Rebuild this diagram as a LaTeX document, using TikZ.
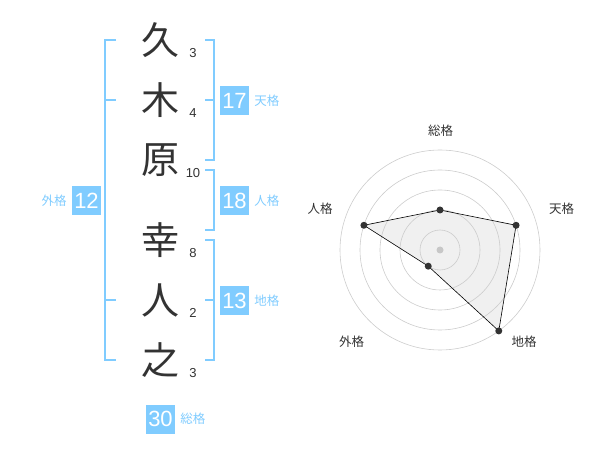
\documentclass[tikz,border=0pt]{standalone}
\usepackage{fontspec}
\setmainfont{Liberation Sans}
\newfontfamily\jp{Noto Sans CJK JP}
\usetikzlibrary{positioning}
\definecolor{kakublue}{RGB}{128,204,255}
\definecolor{kanjigray}{RGB}{51,51,51}

\begin{document}
\begin{tikzpicture}[x=1pt,y=-1pt,
  kanji/.style={font=\jp\fontsize{38}{38}\selectfont, text=kanjigray, inner sep=0pt},
  strokes/.style={font=\fontsize{13}{13}\selectfont, text=kanjigray, inner sep=0pt},
  kakubox/.style={fill=kakublue, text=white, minimum size=29pt, inner sep=0pt, font=\fontsize{22}{22}\selectfont},
  kakuname/.style={text=kakublue, font=\jp\fontsize{12.5}{12.5}\selectfont, inner sep=0pt},
  bracket/.style={draw=kakublue, line width=2pt},
  ring/.style={draw=black!20, line width=0.6pt},
  dot/.style={circle, inner sep=0pt, minimum size=7pt},
  radarname/.style={font=\jp\fontsize{12.5}{12.5}\selectfont, text=kanjigray, inner sep=0pt}
]
\useasboundingbox (0,0) rectangle (600,470);

% name characters with their stroke counts
\foreach \c/\n/\y [count=\i] in {久/3/40,木/4/100,原/10/160,幸/8/240,人/2/300,之/3/360} {
  \node[kanji] (k\i) at (160,\y) {\c};
  \node[strokes] (n\i) at (193,\y+13) {\n};
}

% brackets
\draw[bracket] (116,40) -- (105,40) -- (105,360) -- (116,360);
\draw[bracket] (105,100) -- (116,100);
\draw[bracket] (105,300) -- (116,300);
\draw[bracket] (205,40) -- (214,40) -- (214,160) -- (205,160);
\draw[bracket] (205,100) -- (214,100);
\draw[bracket] (205,170) -- (214,170) -- (214,230) -- (205,230);
\draw[bracket] (205,240) -- (214,240) -- (214,360) -- (205,360);
\draw[bracket] (205,300) -- (214,300);

% scores
\node[kakubox] (ten) at (234.5,100.5) {17};
\node[kakuname, right=5pt of ten] (tenname) {天格};
\node[kakubox] (jin) at (234.5,200.5) {18};
\node[kakuname, right=5pt of jin] (jinname) {人格};
\node[kakubox] (chi) at (234.5,300.5) {13};
\node[kakuname, right=5pt of chi] (chiname) {地格};
\node[kakubox] (gai) at (86.5,200.5) {12};
\node[kakuname, left=5pt of gai] (gainame) {外格};
\node[kakubox] (sou) at (160.5,419) {30};
\node[kakuname, right=5pt of sou] (souname) {総格};

% radar chart
\begin{scope}[shift={(440,250)}]
  \node[dot] (psou) at (-90:40) {};
  \node[dot] (pten) at (-18:80) {};
  \node[dot] (pchi) at (54:100) {};
  \node[dot] (pgai) at (126:20) {};
  \node[dot] (pjin) at (198:80) {};
  \fill[black!6] (psou.center) -- (pten.center) -- (pchi.center) -- (pgai.center) -- (pjin.center) -- cycle;
  \foreach \r in {20,40,...,100}
    \draw[ring] (0,0) circle[radius=\r];
  \fill[black!22] (0,0) circle[radius=3.5];
  \draw[black, line width=0.6pt] (psou.center) -- (pten.center) -- (pchi.center) -- (pgai.center) -- (pjin.center) -- cycle;
  \foreach \p in {psou,pten,pchi,pgai,pjin}
    \fill[kanjigray] (\p) circle[radius=3.5];
  \node[radarname] (lsou) at (0.7,-119.3) {総格};
  \node[radarname] (lten) at (121.7,-41.3) {天格};
  \node[radarname] (ljin) at (-120,-41.3) {人格};
  \node[radarname] (lgai) at (-88.3,91.7) {外格};
  \node[radarname] (lchi) at (84,91.7) {地格};
\end{scope}
\end{tikzpicture}
\end{document}
